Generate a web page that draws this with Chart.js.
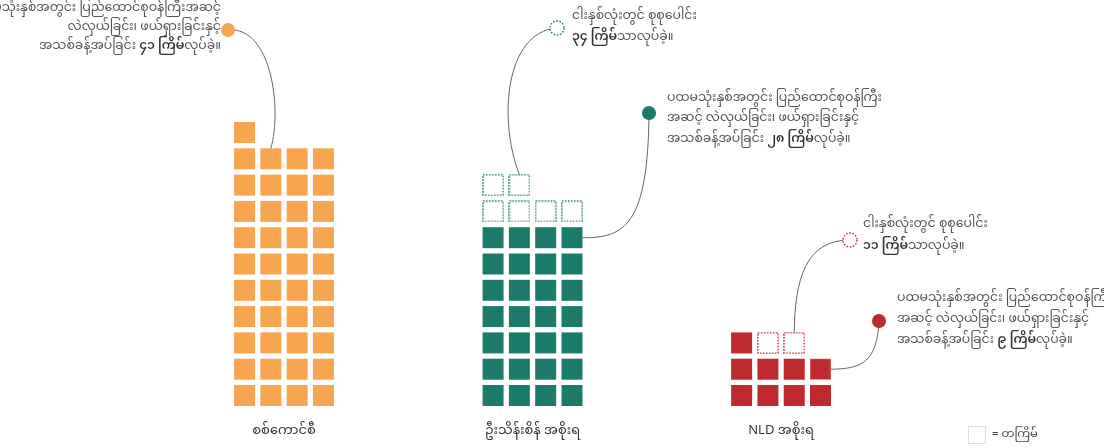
<!DOCTYPE html>
<html><head><meta charset="utf-8">
<script src="https://cdn.jsdelivr.net/npm/chart.js@4"></script>
<style>
html,body{margin:0;padding:0;background:#fff;}
#wrap{position:relative;width:1104px;height:448px;}
</style></head>
<body><div id="wrap"><canvas id="c"></canvas></div>
<script>
// ---- data ----
const categories = ['စစ်ကောင်စီ', 'ဦးသိန်းစိန် အစိုးရ', 'NLD အစိုးရ'];
const firstThreeYears = [41, 28, 9];      // reshuffles in first three years
const fiveYearTotal = [null, 34, 11];     // total over five years (junta: n/a)
const colors = ['#F8A54F', '#1B7C6B', '#BE2A2E'];
const legendLabel = '= တကြိမ်';

// ---- layout constants ----
const PER_ROW = 4;
const CELL = 26.3;            // px per cell
const GROUP_GAP = 9.45;       // cells between group centres
const FONT = "'Noto Sans Myanmar','Padauk','Myanmar Text','Noto Sans',sans-serif";
const toMy = n => String(n).replace(/\d/g, d => '၀၁၂၃၄၅၆၇၈၉'[d]);

function cellPos(g, i) {
  const row = Math.floor(i / PER_ROW), col = i % PER_ROW;
  return { x: g * GROUP_GAP + (col - 1.5), y: row };
}

function hollowStyle(color) {
  const c = document.createElement('canvas');
  c.width = 22; c.height = 22;
  const x = c.getContext('2d');
  x.strokeStyle = color; x.lineWidth = 1.4;
  x.setLineDash([1.6, 1.4]);
  x.strokeRect(0.9, 0.9, 20.2, 20.2);
  return c;
}

// highlighted square (connector end) for the last group
const highlight = { g: 2, idx: 7 };

const datasets = [];
categories.forEach((cat, g) => {
  const filled = [];
  for (let i = 0; i < firstThreeYears[g]; i++) filled.push(cellPos(g, i));
  datasets.push({ label: cat, data: filled, pointStyle: 'rect', pointRadius: 14.85,
    pointHoverRadius: 14.85, backgroundColor: colors[g],
    borderColor: filled.map((_, i) => (g === highlight.g && i === highlight.idx) ? 'rgba(255,255,255,0.35)' : colors[g]),
    borderWidth: filled.map((_, i) => (g === highlight.g && i === highlight.idx) ? 1.2 : 0) });
  const hollow = [];
  if (fiveYearTotal[g] != null)
    for (let i = firstThreeYears[g]; i < fiveYearTotal[g]; i++) hollow.push(cellPos(g, i));
  datasets.push({ label: cat + ' total', data: hollow, pointStyle: hollowStyle(colors[g]),
    pointRadius: 11, backgroundColor: 'transparent', borderWidth: 0 });
});

const annotations = [
  { g: 0, idx: 37, edge: 'top', dot: [228, 30], dotted: false, align: 'right', tx: 221, ty: [10, 29, 48],
    cp: [[272, 26], [282, 110]],
    lines: [[['ပထမသုံးနှစ်အတွင်း ပြည်ထောင်စုဝန်ကြီးအဆင့်']], [['လဲလှယ်ခြင်း၊ ဖယ်ရှားခြင်းနှင့်']],
            [['အသစ်ခန့်အပ်ခြင်း '], [toMy(firstThreeYears[0]) + ' ကြိမ်', 1], ['လုပ်ခဲ့။']]] },
  { g: 1, idx: 33, edge: 'top', dot: [557, 28], dotted: true, align: 'left', tx: 572, ty: [18, 39],
    cp: [[505, 32], [498, 120]],
    lines: [[['ငါးနှစ်လုံးတွင် စုစုပေါင်း']], [[toMy(fiveYearTotal[1]) + ' ကြိမ်', 1], ['သာလုပ်ခဲ့။']]] },
  { g: 1, idx: 27, edge: 'right', dot: [649, 113], dotted: false, align: 'left', tx: 667, ty: [100, 120, 141],
    cp: [[648, 225], [625, 238]],
    lines: [[['ပထမသုံးနှစ်အတွင်း ပြည်ထောင်စုဝန်ကြီး']], [['အဆင့် လဲလှယ်ခြင်း၊ ဖယ်ရှားခြင်းနှင့်']],
            [['အသစ်ခန့်အပ်ခြင်း '], [toMy(firstThreeYears[1]) + ' ကြိမ်', 1], ['လုပ်ခဲ့။']]] },
  { g: 2, idx: 10, edge: 'top', dot: [850, 240], dotted: true, align: 'left', tx: 863, ty: [226, 248],
    cp: [[805, 240], [795, 280]],
    lines: [[['ငါးနှစ်လုံးတွင် စုစုပေါင်း']], [[toMy(fiveYearTotal[2]) + ' ကြိမ်', 1], ['သာလုပ်ခဲ့။']]] },
  { g: 2, idx: 7, edge: 'right', dot: [879, 321], dotted: false, align: 'left', tx: 897, ty: [300, 321, 342],
    cp: [[877, 362], [862, 369]],
    lines: [[['ပထမသုံးနှစ်အတွင်း ပြည်ထောင်စုဝန်ကြီး']], [['အဆင့် လဲလှယ်ခြင်း၊ ဖယ်ရှားခြင်းနှင့်']],
            [['အသစ်ခန့်အပ်ခြင်း '], [toMy(firstThreeYears[2]) + ' ကြိမ်', 1], ['လုပ်ခဲ့။']]] }
];

function drawRich(ctx, segs, x, y, align) {
  const fontFor = b => (b ? '600 ' : '400 ') + '12.5px ' + FONT;
  let total = 0;
  segs.forEach(s => { ctx.font = fontFor(s[1]); total += ctx.measureText(s[0]).width; });
  let cx = align === 'right' ? x - total : x;
  segs.forEach(s => {
    ctx.font = fontFor(s[1]);
    ctx.fillStyle = s[1] ? '#333' : '#555';
    ctx.fillText(s[0], cx, y);
    cx += ctx.measureText(s[0]).width;
  });
}

const overlay = {
  id: 'overlay',
  afterDatasetsDraw(chart) {
    const ctx = chart.ctx, xs = chart.scales.x, ys = chart.scales.y;
    ctx.save();
    ctx.textBaseline = 'middle';
    annotations.forEach(a => {
      const p = cellPos(a.g, a.idx);
      let ex = xs.getPixelForValue(p.x), ey = ys.getPixelForValue(p.y);
      if (a.edge === 'top') ey -= 10.5; else ex += 10.5;
      ctx.beginPath();
      ctx.strokeStyle = '#666'; ctx.lineWidth = 1; ctx.setLineDash([]);
      ctx.moveTo(a.dot[0], a.dot[1]);
      ctx.bezierCurveTo(a.cp[0][0], a.cp[0][1], a.cp[1][0], a.cp[1][1], ex, ey);
      ctx.stroke();
      const col = colors[a.g];
      ctx.beginPath();
      ctx.arc(a.dot[0], a.dot[1], 7, 0, Math.PI * 2);
      if (a.dotted) {
        ctx.fillStyle = '#fff'; ctx.fill();
        ctx.strokeStyle = col; ctx.lineWidth = 1.4; ctx.setLineDash([1.6, 1.6]); ctx.stroke();
        ctx.setLineDash([]);
      } else { ctx.fillStyle = col; ctx.fill(); }
      a.lines.forEach((ln, k) => drawRich(ctx, ln, a.tx, a.ty[k], a.align));
    });
    // category labels
    ctx.textAlign = 'center';
    ctx.font = '13px ' + FONT; ctx.fillStyle = '#333';
    categories.forEach((c, g) => ctx.fillText(c, xs.getPixelForValue(g * GROUP_GAP), 433));
    // legend
    ctx.textAlign = 'left';
    ctx.strokeStyle = '#ddd'; ctx.lineWidth = 1;
    ctx.strokeRect(968.5, 426.5, 17, 17);
    ctx.font = '11.5px ' + FONT; ctx.fillStyle = '#444';
    ctx.fillText(legendLabel, 992, 436);
    ctx.restore();
  }
};

const xMin = -284 / CELL, yMin = -(448 - 395.5) / CELL;
new Chart(document.getElementById('c'), {
  type: 'scatter',
  data: { datasets },
  options: {
    responsive: true, maintainAspectRatio: false, animation: false,
    layout: { padding: 0, autoPadding: false },
    events: [],
    plugins: { legend: { display: false }, tooltip: { enabled: false } },
    scales: {
      x: { type: 'linear', display: false, min: xMin, max: xMin + 1104 / CELL },
      y: { type: 'linear', display: false, min: yMin, max: yMin + 448 / CELL }
    }
  },
  plugins: [overlay]
});
</script></body></html>
